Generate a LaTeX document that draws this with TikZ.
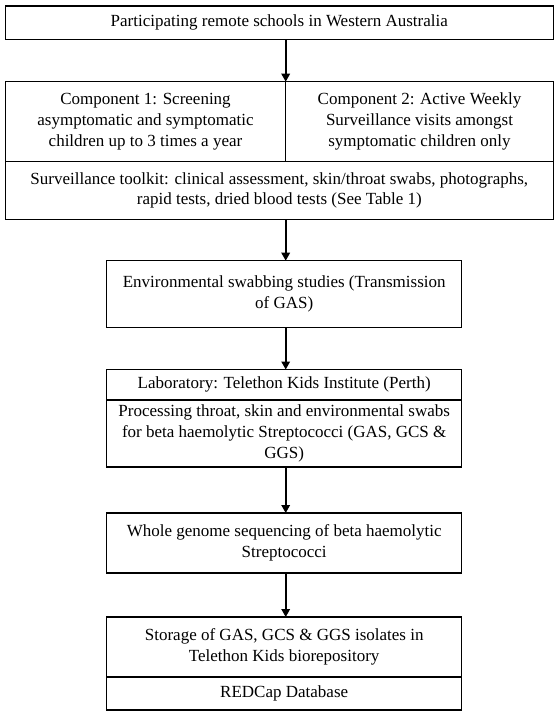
\documentclass[tikz,border=0pt]{standalone}
\usepackage{fontspec}
\setmainfont{Liberation Serif}
\usetikzlibrary{arrows.meta}
\tikzset{
  box/.style={draw=black, line width=1.1pt, rectangle, inner sep=0pt, outer sep=0pt,
    align=center, font=\fontsize{17}{20.8}\selectfont},
  flow/.style={draw=black, line width=1.7pt, -{Triangle[length=8pt,width=8.5pt]}}
}
\begin{document}
\begin{tikzpicture}[x=1pt,y=-1pt]
\useasboundingbox (0,0) rectangle (557,715);
\coordinate (spine) at (285.7,0);
\node[box, minimum width=548pt, minimum height=33.3pt] (top) at (279.3,22.65)
  {Participating remote schools in Western Australia};
\node[box, minimum width=280.4pt, minimum height=80pt] (comp1) at (145.5,121.7)
  {Component 1: Screening\\asymptomatic and symptomatic\\children up to 3 times a year};
\node[box, minimum width=267.6pt, minimum height=80pt] (comp2) at (419.5,121.7)
  {Component 2: Active Weekly\\Surveillance visits amongst\\symptomatic children only};
\node[box, minimum width=548pt, minimum height=57.6pt] (toolkit) at (279.3,190.5)
  {Surveillance toolkit: clinical assessment, skin/throat swabs, photographs,\\rapid tests, dried blood tests (See Table 1)};
\node[box, minimum width=355pt, minimum height=66.6pt] (env) at (284.2,294)
  {Environmental swabbing studies (Transmission\\of GAS)};
\node[box, minimum width=355pt, minimum height=30.5pt] (lab) at (284.2,384.75)
  {Laboratory: Telethon Kids Institute (Perth)};
\node[box, minimum width=355pt, minimum height=67pt] (proc) at (284.2,433.5)
  {Processing throat, skin and environmental swabs\\for beta haemolytic Streptococci (GAS, GCS \&\\GGS)};
\node[box, minimum width=355pt, minimum height=60pt] (wgs) at (284.2,543)
  {Whole genome sequencing of beta haemolytic\\Streptococci};
\node[box, minimum width=355pt, minimum height=60pt] (stor) at (284.2,647)
  {Storage of GAS, GCS \& GGS isolates in\\Telethon Kids biorepository};
\node[box, minimum width=355pt, minimum height=33pt] (redcap) at (284.2,693.5)
  {REDCap Database};
\draw[flow] (top.south -| spine) -- (comp1.north -| spine);
\draw[flow] (toolkit.south -| spine) -- (env.north -| spine);
\draw[flow] (env.south -| spine) -- (lab.north -| spine);
\draw[flow] (proc.south -| spine) -- (wgs.north -| spine);
\draw[flow] (wgs.south -| spine) -- (stor.north -| spine);
\end{tikzpicture}
\end{document}
